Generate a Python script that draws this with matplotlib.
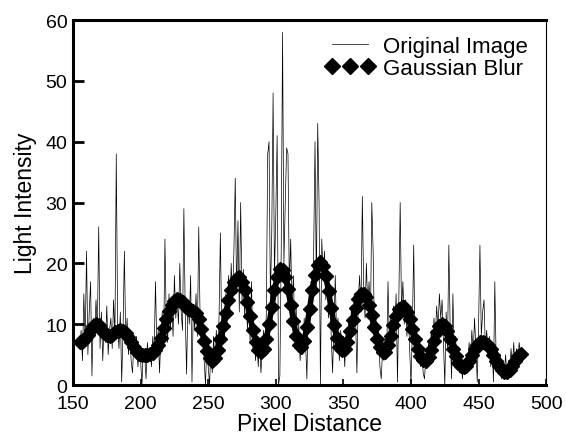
import numpy as np
import matplotlib.pyplot as plt

plt.rcParams["font.family"] = ["Liberation Sans", "DejaVu Sans"]

# Original image intensity, one value per pixel from x = 155
orig_start = 155
original = [
    6, 9, 4, 15, 7, 22, 5, 12, 17, 1.5,
    11, 8, 14, 9, 26, 6, 12, 4, 10, 7,
    13, 5, 9, 11, 6, 14, 8, 38, 10, 6,
    12, 0.5, 9, 22, 7, 11, 5, 9, 4, 2,
    7, 5, 8, 3, 6, 4, 0, 6, 5, 1,
    7, 4, 6, 3, 8, 5, 17, 6, 9, 2,
    8, 12, 6, 24, 10, 7, 15, 9, 13, 8,
    18, 11, 14, 10, 20, 12, 9, 29, 12, 1.8,
    14, 10, 18, 0.5, 13, 9, 15, 8, 26, 11,
    7, 10, 4, 0, 7, 3, 0, 6, 2, 8,
    3, 9, 5, 11, 25, 8, 12, 7, 15, 10,
    18, 12, 20, 14, 22, 34, 15, 27, 12, 30,
    14, 19, 11, 16, 9, 14, 7, 17, 6, 10,
    4, 8, 3, 7, 2, 6, 9, 5, 12, 38,
    40, 14, 25, 48, 18, 28, 41, 0, 1.5, 22,
    58, 20, 30, 39, 38, 16, 24, 12, 18, 9,
    13, 6, 10, 4, 8, 5, 11, 7, 1, 13,
    9, 17, 12, 22, 40, 16, 43, 30, 0, 24,
    18, 22, 14, 19, 11, 15, 8, 2, 10, 18,
    7, 11, 4, 9, 5, 8, 3, 9, 6, 11,
    8, 13, 9, 15, 11, 2, 14, 18, 12, 31,
    16, 11, 20, 13, 17, 10, 30, 22, 8, 12,
    5, 9, 3, 1, 6, 4, 8, 5, 17, 7,
    11, 6, 13, 9, 15, 0.5, 14, 30, 12, 17,
    10, 14, 8, 12, 6, 0, 9, 23, 6, 9,
    4, 7, 3, 6, 2, 1, 5, 3, 7, 4,
    9, 6, 11, 8, 13, 9, 15, 11, 14, 7,
    0, 12, 6, 23, 9, 1, 15, 5, 8, 3,
    6, 2, 5, 1, 4, 2, 5, 3, 7, 4,
    9, 5, 11, 6, 0.5, 10, 23, 8, 12, 14,
    6, 9, 5, 8, 3, 7, 0.5, 17, 4, 6,
    2, 5, 1, 4, 2, 5, 1, 4, 2, 6,
    3, 7, 2, 6, 4, 7, 5,
]

# Gaussian blurred profile, every 2 pixels from x = 155
blur_start = 155
blur_step = 2
blur = [
    7.0, 7.1, 7.5, 8.2, 9.0, 9.7, 10.0, 9.8, 9.2, 8.6,
    8.2, 8.1, 8.3, 8.7, 8.9, 9.0, 8.9, 8.6, 7.9, 7.0,
    6.2, 5.5, 5.1, 5.0, 5.0, 5.0, 5.1, 5.3, 5.7, 6.5,
    7.8, 9.3, 10.8, 12.2, 13.2, 13.8, 14.1, 14.0, 13.6, 13.0,
    12.5, 12.3, 12.2, 11.8, 10.8, 9.2, 7.3, 5.6, 4.4, 4.0,
    4.5, 5.8, 7.6, 9.7, 11.9, 13.9, 15.6, 16.9, 17.6, 17.7,
    17.0, 15.6, 13.6, 11.3, 9.0, 7.0, 5.7, 5.4, 6.0, 7.6,
    10.0, 12.8, 15.6, 17.8, 19.0, 18.9, 17.8, 15.8, 13.2, 10.5,
    8.1, 6.5, 6.2, 7.3, 9.6, 12.5, 15.6, 18.1, 19.7, 20.2,
    19.6, 17.9, 15.4, 12.6, 9.9, 7.7, 6.3, 5.8, 6.0, 7.1,
    8.8, 10.7, 12.6, 14.1, 14.9, 15.0, 14.4, 13.2, 11.5, 9.5,
    7.6, 6.2, 5.4, 5.5, 6.5, 8.0, 9.8, 11.4, 12.5, 12.9,
    12.8, 12.0, 10.8, 9.2, 7.5, 5.9, 4.7, 4.1, 4.0, 4.6,
    5.8, 7.3, 8.7, 9.7, 10.0, 9.7, 8.8, 7.5, 6.0, 4.7,
    3.7, 3.2, 3.0, 3.2, 3.9, 4.9, 5.9, 6.6, 7.0, 7.0,
    6.9, 6.5, 5.9, 5.0, 4.0, 3.1, 2.5, 2.1, 2.1, 2.5,
    3.2, 4.0, 4.7, 5.1,
]

x_orig = orig_start + np.arange(len(original))
x_blur = blur_start + blur_step * np.arange(len(blur))

fig = plt.figure(figsize=(5.66, 4.35), dpi=100)
ax = fig.add_axes([0.129, 0.1126, 0.836, 0.8391])

ax.plot(x_orig, original, color="black", linewidth=0.5, label="Original Image")
ax.plot(x_blur, blur, color="black", linestyle="-", linewidth=4,
        marker="D", markersize=7, label="Gaussian Blur")

ax.set_xlim(150, 500)
ax.set_ylim(0, 60)
ax.set_xticks([150, 200, 250, 300, 350, 400, 450, 500])
ax.set_yticks([0, 10, 20, 30, 40, 50, 60])

ax.tick_params(axis="y", direction="in", length=8, width=2, labelsize=14, pad=4)
ax.tick_params(axis="x", direction="in", length=4, width=1.2, labelsize=14, pad=7)

for side in ["left", "bottom", "top"]:
    ax.spines[side].set_linewidth(2.2)
ax.spines["right"].set_linewidth(0.8)

ax.set_xlabel("Pixel Distance", fontsize=16.5, labelpad=0)
ax.set_ylabel("Light Intensity", fontsize=16.5, labelpad=6)

leg = ax.legend(loc="upper right", bbox_to_anchor=(0.995, 1.0), frameon=False,
                fontsize=16, numpoints=3, handlelength=2.2, handletextpad=0.4,
                labelspacing=0.05, borderaxespad=0.3, markerscale=1.15)
# legend diamonds drawn without the connecting line, as in the figure
leg.legend_handles[1].set_linestyle("none")

fig.savefig("out.png", dpi=100)
